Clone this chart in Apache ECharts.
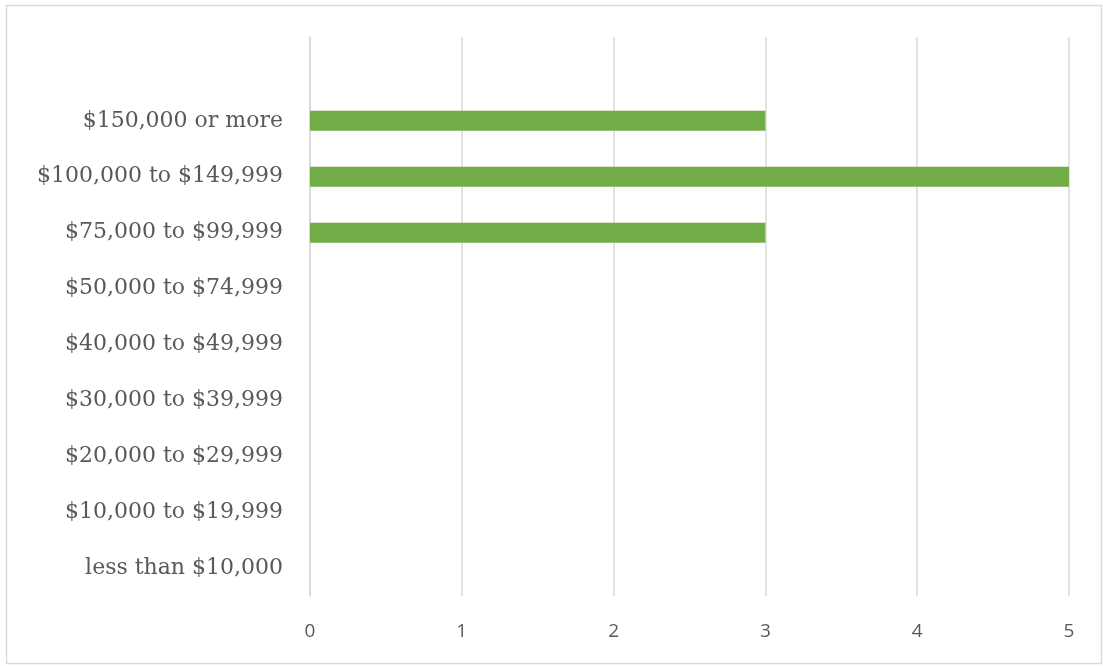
<!DOCTYPE html>
<html>
<head>
<meta charset="utf-8">
<script src="https://cdn.jsdelivr.net/npm/echarts@6/dist/echarts.min.js"></script>
<style>
html,body{margin:0;padding:0;background:#fff;}
#chart{width:1103px;height:666px;}
</style>
</head>
<body>
<div id="chart"></div>
<script>
// Categories from bottom to top (blank top category as in original)
const categories = ['less than $10,000','$10,000 to $19,999','$20,000 to $29,999','$30,000 to $39,999','$40,000 to $49,999','$50,000 to $74,999','$75,000 to $99,999','$100,000 to $149,999','$150,000 or more',''];
const values = [0,0,0,0,0,0,3,5,3,null];
const xTicks = [0,1,2,3,4,5];

const chart = echarts.init(document.getElementById('chart'));
chart.setOption({
  animation:false,
  graphic:[{type:'rect',shape:{x:6.5,y:5.5,width:1095,height:658},style:{fill:'none',stroke:'#d9d9d9',lineWidth:1.5}}],
  grid:{left:310,right:34,top:37,bottom:70,containLabel:false},
  xAxis:{type:'value',min:xTicks[0],max:xTicks[xTicks.length-1],interval:1,
    axisLine:{show:false},axisTick:{show:false},
    splitLine:{lineStyle:{color:'#d9d9d9',width:1.5}},
    axisLabel:{color:'#595959',fontSize:19,fontFamily:'Open Sans',margin:26}},
  yAxis:{type:'category',data:categories,
    axisLine:{show:true,lineStyle:{color:'#d9d9d9',width:1.5}},axisTick:{show:false},
    axisLabel:{color:'#595959',fontSize:22,fontFamily:'DejaVu Serif',margin:27,padding:[8,0,0,0]}},
  series:[{type:'bar',data:values,barWidth:20,itemStyle:{color:'#70ad47'}}]
});
</script>
</body>
</html>
